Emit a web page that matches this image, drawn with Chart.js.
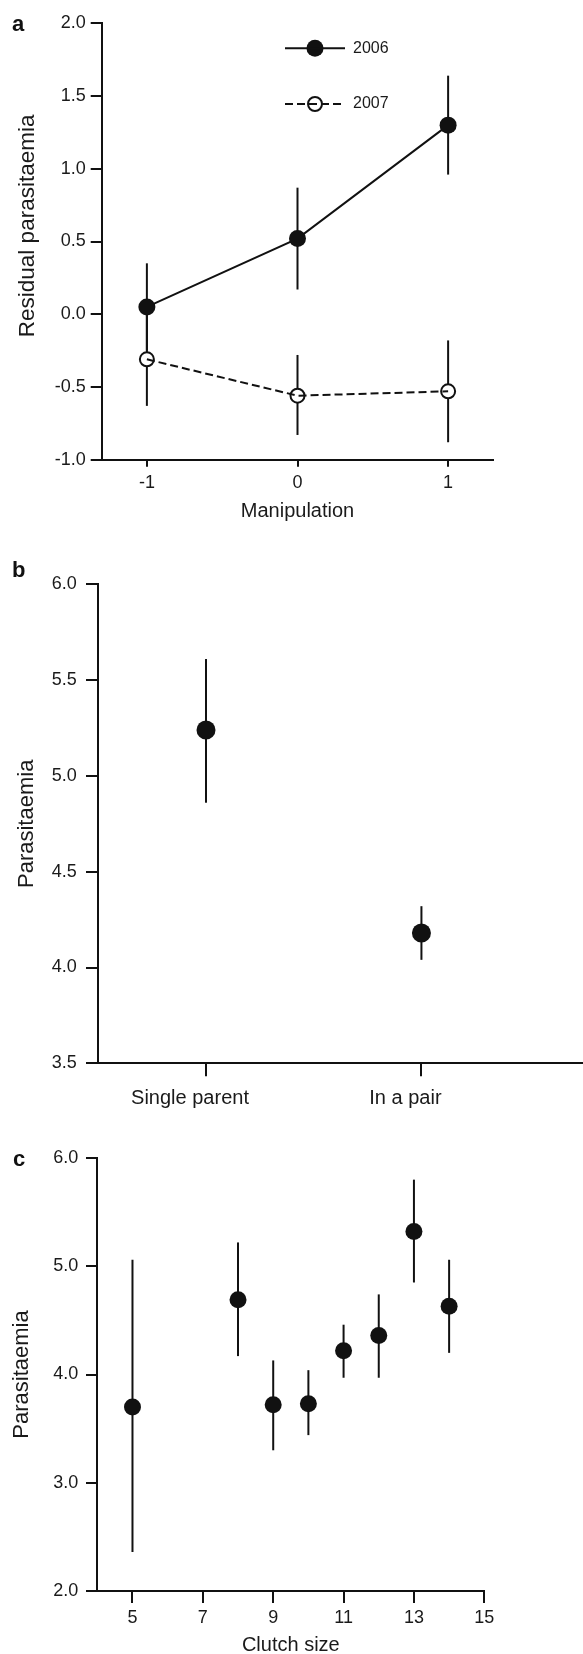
<!DOCTYPE html>
<html>
<head>
<meta charset="utf-8">
<script src="https://cdn.jsdelivr.net/npm/chart.js@4"></script>
<style>
  body { margin: 0; background: #fff; }
  #page { position: relative; width: 583px; height: 1654px; overflow: hidden; }
  canvas { position: absolute; left: 0; }
  .tag { position: absolute; font: bold 22px "Liberation Sans", Arial, sans-serif; line-height: 22px; color: #111; }
</style>
</head>
<body>
<div id="page">
  <canvas id="chartA" width="583" height="540" style="top:0px"></canvas>
  <canvas id="chartB" width="583" height="580" style="top:540px"></canvas>
  <canvas id="chartC" width="583" height="537" style="top:1120px"></canvas>
  <div class="tag" style="left:12px;top:13px">a</div>
  <div class="tag" style="left:12px;top:559px">b</div>
  <div class="tag" style="left:13px;top:1148px">c</div>
</div>
<script>
// panel a - residual parasitaemia by manipulation
const manipulation = [-1, 0, 1];
const resid2006 = [0.05, 0.52, 1.30];
const resid2006Low = [-0.25, 0.17, 0.96];
const resid2006High = [0.35, 0.87, 1.64];
const resid2007 = [-0.31, -0.56, -0.53];
const resid2007Low = [-0.63, -0.83, -0.88];
const resid2007High = [0.01, -0.28, -0.18];

// panel b - single parent vs pair
const parentCategories = ["Single parent", "In a pair"];
const parentMeans = [5.24, 4.18];
const parentLow = [4.86, 4.04];
const parentHigh = [5.61, 4.32];

// panel c - clutch size
const clutchSizes = [5, 8, 9, 10, 11, 12, 13, 14];
const clutchMeans = [3.70, 4.69, 3.72, 3.73, 4.22, 4.36, 5.32, 4.63];
const clutchLow = [2.36, 4.17, 3.30, 3.44, 3.97, 3.97, 4.85, 4.20];
const clutchHigh = [5.06, 5.22, 4.13, 4.04, 4.46, 4.74, 5.80, 5.06];
const clutchTicks = [5, 7, 9, 11, 13, 15];

const INK = "#111";
Chart.defaults.font.family = '"Liberation Sans", Arial, sans-serif';
Chart.defaults.color = "#1a1a1a";

function points(xs, ys) {
  return xs.map((x, i) => ({ x: x, y: ys[i] }));
}

// vertical error bars, drawn under the markers
const errorBars = {
  id: "errorBars",
  beforeDatasetsDraw(chart) {
    const ctx = chart.ctx;
    const xs = chart.scales.x;
    const ys = chart.scales.y;
    ctx.save();
    ctx.strokeStyle = INK;
    ctx.lineWidth = 2;
    chart.data.datasets.forEach((ds) => {
      if (!ds.errLow) return;
      ds.data.forEach((pt, i) => {
        const x = xs.getPixelForValue(pt.x);
        ctx.beginPath();
        ctx.moveTo(x, ys.getPixelForValue(ds.errLow[i]));
        ctx.lineTo(x, ys.getPixelForValue(ds.errHigh[i]));
        ctx.stroke();
      });
    });
    ctx.restore();
  }
};

// legend with line - marker - line samples
const lineLegend = {
  id: "lineLegend",
  afterDatasetsDraw(chart, args, opts) {
    const ctx = chart.ctx;
    const area = chart.chartArea;
    let row = 0;
    ctx.save();
    chart.data.datasets.forEach((ds) => {
      if (!ds.inLegend) return;
      const y = area.top + opts.top + row * opts.gap;
      const x0 = area.left + opts.left;
      row++;
      ctx.beginPath();
      ctx.arc(x0 + opts.sample / 2, y, ds.pointRadius, 0, Math.PI * 2);
      ctx.fillStyle = ds.pointBackgroundColor;
      ctx.fill();
      if (ds.pointBorderWidth) {
        ctx.lineWidth = ds.pointBorderWidth;
        ctx.strokeStyle = ds.pointBorderColor;
        ctx.stroke();
      }
      ctx.strokeStyle = INK;
      ctx.lineWidth = 2;
      ctx.setLineDash(ds.legendDash || []);
      ctx.beginPath();
      ctx.moveTo(x0, y);
      ctx.lineTo(x0 + opts.sample, y);
      ctx.stroke();
      ctx.setLineDash([]);
      ctx.fillStyle = "#1a1a1a";
      ctx.font = opts.font;
      ctx.textBaseline = "middle";
      ctx.fillText(ds.label, x0 + opts.sample + opts.textGap, y);
    });
    ctx.restore();
  }
};

function axisStyle(tickLength) {
  return {
    grid: { display: true, drawOnChartArea: false, drawTicks: true, tickLength: tickLength, color: INK, lineWidth: 2 },
    border: { display: true, color: INK, width: 2 }
  };
}

const common = {
  responsive: false,
  animation: false,
  events: [],
  plugins: { legend: { display: false }, tooltip: { enabled: false } }
};

// a
new Chart(document.getElementById("chartA"), {
  type: "scatter",
  data: {
    datasets: [
      {
        label: "2006",
        inLegend: true,
        data: points(manipulation, resid2006),
        errLow: resid2006Low,
        errHigh: resid2006High,
        showLine: true,
        borderColor: INK,
        borderWidth: 2,
        pointRadius: 8.5,
        pointBackgroundColor: INK,
        pointBorderWidth: 0,
        order: 1,
        clip: false
      },
      {
        label: "2007",
        inLegend: true,
        legendDash: [8, 4],
        data: points(manipulation, resid2007),
        errLow: resid2007Low,
        errHigh: resid2007High,
        showLine: false,
        pointRadius: 7,
        pointBackgroundColor: "#fff",
        pointBorderColor: INK,
        pointBorderWidth: 2,
        order: 1,
        clip: false
      },
      {
        // dashed 2007 line drawn over the open markers
        label: "2007 line",
        data: points(manipulation, resid2007),
        showLine: true,
        borderColor: INK,
        borderWidth: 2,
        borderDash: [8, 4],
        pointRadius: 0,
        order: 0,
        clip: false
      }
    ]
  },
  options: {
    ...common,
    layout: { autoPadding: false, padding: { top: 23.3, right: 89.7, bottom: 0, left: 0 } },
    plugins: {
      ...common.plugins,
      lineLegend: { left: 183.3, top: 25, gap: 55.7, sample: 60, textGap: 8, font: '16px "Liberation Sans", Arial, sans-serif' }
    },
    scales: {
      x: {
        type: "linear",
        min: -1.3,
        max: 1.3,
        afterBuildTicks: (s) => { s.ticks = manipulation.map((v) => ({ value: v })); },
        afterFit: (s) => { s.height = 80.3; },
        ...axisStyle(7),
        ticks: { font: { size: 18 }, padding: 6, maxRotation: 0, callback: (v) => String(v) },
        title: { display: true, text: "Manipulation", font: { size: 20 }, padding: { top: 0, bottom: 17 } }
      },
      y: {
        min: -1,
        max: 2,
        afterFit: (s) => { s.width = 101.7; },
        ...axisStyle(11),
        ticks: { stepSize: 0.5, font: { size: 18 }, padding: 5, callback: (v) => v.toFixed(1) },
        // leading spaces lift the title a little, as in the original figure
        title: { display: true, text: "     Residual parasitaemia", font: { size: 22.5 }, padding: { top: 14, bottom: 0 } }
      }
    }
  },
  plugins: [errorBars, lineLegend]
});

// b
new Chart(document.getElementById("chartB"), {
  type: "scatter",
  data: {
    datasets: [{
      label: "Parasitaemia",
      data: points(parentCategories.map((c, i) => i), parentMeans),
      errLow: parentLow,
      errHigh: parentHigh,
      pointRadius: 9.5,
      pointBackgroundColor: INK,
      pointBorderWidth: 0,
      clip: false
    }]
  },
  options: {
    ...common,
    layout: { autoPadding: false, padding: { top: 44.3, right: 0, bottom: 0, left: 0 } },
    scales: {
      x: {
        type: "linear",
        min: -0.5,
        max: 1.75,
        afterBuildTicks: (s) => { s.ticks = parentCategories.map((c, i) => ({ value: i })); },
        afterFit: (s) => { s.height = 56.7; },
        ...axisStyle(13),
        ticks: { font: { size: 20 }, padding: 10, labelOffset: -16, maxRotation: 0, callback: (v) => parentCategories[v] }
      },
      y: {
        min: 3.5,
        max: 6,
        afterFit: (s) => { s.width = 98.3; },
        ...axisStyle(12.3),
        ticks: { stepSize: 0.5, font: { size: 18 }, padding: 9.3, callback: (v) => v.toFixed(1) },
        title: { display: true, text: "Parasitaemia", font: { size: 22 }, padding: { top: 13.3, bottom: 0 } }
      }
    }
  },
  plugins: [errorBars]
});

// c
new Chart(document.getElementById("chartC"), {
  type: "scatter",
  data: {
    datasets: [{
      label: "Parasitaemia",
      data: points(clutchSizes, clutchMeans),
      errLow: clutchLow,
      errHigh: clutchHigh,
      pointRadius: 8.5,
      pointBackgroundColor: INK,
      pointBorderWidth: 0,
      clip: false
    }]
  },
  options: {
    ...common,
    layout: { autoPadding: false, padding: { top: 38, right: 98.7, bottom: 0, left: 0 } },
    scales: {
      x: {
        type: "linear",
        min: 4,
        max: 15,
        afterBuildTicks: (s) => { s.ticks = clutchTicks.map((v) => ({ value: v })); },
        afterFit: (s) => { s.height = 66; },
        ...axisStyle(12),
        ticks: { font: { size: 18 }, padding: 4, maxRotation: 0, callback: (v) => String(v) },
        title: { display: true, text: "Clutch size", font: { size: 20 }, padding: { top: 0, bottom: 0 } }
      },
      y: {
        min: 2,
        max: 6,
        afterFit: (s) => { s.width = 97.3; },
        ...axisStyle(11.3),
        ticks: { stepSize: 1, font: { size: 18 }, padding: 7.7, callback: (v) => v.toFixed(1) },
        title: { display: true, text: "Parasitaemia", font: { size: 22 }, padding: { top: 8.5, bottom: 0 } }
      }
    }
  },
  plugins: [errorBars]
});
</script>
</body>
</html>
